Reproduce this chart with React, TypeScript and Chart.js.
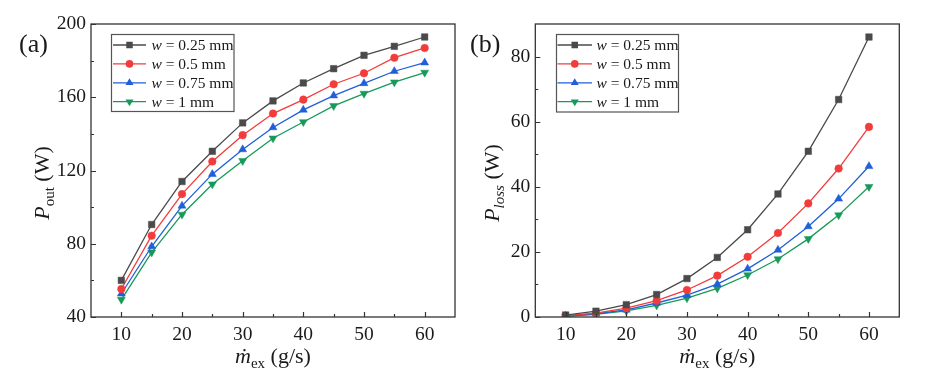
import React, { useEffect, useRef } from 'react';
import { Chart, registerables } from 'chart.js';

Chart.register(...registerables);

// ---------- data ----------
const massFlow = [10, 15, 20, 25, 30, 35, 40, 45, 50, 55, 60];
const seriesWidths = ['0.25 mm', '0.5 mm', '0.75 mm', '1 mm'];

const outW025 = [60, 90.5, 114, 130.5, 146, 158, 167.8, 175.6, 182.9, 187.8, 192.9];
const outW050 = [55.3, 84.4, 107.1, 124.9, 139.3, 151.1, 158.7, 167.1, 173.1, 181.6, 186.9];
const outW075 = [52.7, 78.5, 100.7, 118, 131.5, 143.5, 153.1, 160.9, 167.6, 174.2, 178.9];
const outW100 = [49.5, 75.3, 96, 112.5, 125.3, 137.6, 146.5, 155.3, 162, 168.2, 173.5];

const lossW025 = [0.6, 1.8, 3.8, 6.9, 11.8, 18.3, 26.8, 37.8, 50.9, 66.8, 86.0];
const lossW050 = [0.4, 1.2, 2.7, 5.0, 8.3, 12.7, 18.5, 25.8, 34.9, 45.6, 58.4];
const lossW075 = [0.3, 1.0, 2.2, 4.3, 6.7, 10.1, 14.8, 20.6, 27.8, 36.3, 46.3];
const lossW100 = [0.2, 0.8, 1.9, 3.6, 5.8, 8.8, 12.9, 17.8, 24.0, 31.3, 40.0];

const xMajorTicks = [10, 20, 30, 40, 50, 60];
const xMinorTicks = [15, 25, 35, 45, 55];
const outMajorTicks = [40, 80, 120, 160, 200];
const outMinorTicks = [60, 100, 140, 180];
const lossMajorTicks = [0, 20, 40, 60, 80];
const lossMinorTicks = [10, 30, 50, 70];

// ---------- styles ----------
const SERIF = '"Liberation Serif", "Times New Roman", serif';
const lineColors = ['#4a4a4a', '#f23c3c', '#1f5fd8', '#17995a'];
const markerStyles: any[] = ['rect', 'circle', 'triangle', 'triangle'];
const markerRotations = [0, 0, 0, 180];
const markerRadii = [4.6, 3.8, 4.6, 4.6];

type Seg = { t: string; font: string; dy: number };

function drawSegs(ctx: CanvasRenderingContext2D, segs: Seg[], x: number, y: number, align: 'left' | 'center') {
  let total = 0;
  for (const s of segs) {
    ctx.font = s.font;
    total += ctx.measureText(s.t).width;
  }
  let cx = align === 'center' ? x - total / 2 : x;
  ctx.textAlign = 'left';
  for (const s of segs) {
    ctx.font = s.font;
    ctx.fillText(s.t, cx, y + s.dy);
    cx += ctx.measureText(s.t).width;
  }
}

// legend key marker, same shapes as Chart.js point styles
function drawMarker(ctx: CanvasRenderingContext2D, i: number, x: number, y: number) {
  const r = markerRadii[i];
  ctx.save();
  ctx.fillStyle = lineColors[i];
  ctx.beginPath();
  if (markerStyles[i] === 'rect') {
    const s = r * Math.SQRT1_2;
    ctx.rect(x - s, y - s, 2 * s, 2 * s);
  } else if (markerStyles[i] === 'circle') {
    ctx.arc(x, y, r, 0, Math.PI * 2);
  } else {
    const dir = markerRotations[i] === 180 ? -1 : 1;
    ctx.moveTo(x, y - dir * r);
    ctx.lineTo(x + r * Math.sin(Math.PI / 3), y + dir * r * 0.5);
    ctx.lineTo(x - r * Math.sin(Math.PI / 3), y + dir * r * 0.5);
    ctx.closePath();
  }
  ctx.fill();
  ctx.restore();
}

type PanelCfg = {
  width: number;
  values: number[][];
  yMin: number;
  yMax: number;
  yMajor: number[];
  yMinor: number[];
  yAxisWidth: number;
  padRight: number;
  yTitle: Seg[];
  yTitleX: number;
  panelLabel: string;
  panelLabelX: number;
  legend: { bx: number; by: number; bw: number; bh: number; l0: number; l1: number; tx: number; r0: number; step: number };
};

function makePlugin(cfg: PanelCfg) {
  return {
    id: 'decor',
    afterDraw(chart: any) {
      const ctx: CanvasRenderingContext2D = chart.ctx;
      const a = chart.chartArea;
      const xs = chart.scales.x;
      const ys = chart.scales.y;
      ctx.save();
      // frame
      ctx.strokeStyle = '#333';
      ctx.lineWidth = 1.3;
      ctx.strokeRect(a.left, a.top, a.right - a.left, a.bottom - a.top);
      // ticks (inward)
      ctx.lineWidth = 1.2;
      ctx.beginPath();
      for (const v of xMajorTicks) {
        const p = Math.round(xs.getPixelForValue(v)) + 0.5;
        ctx.moveTo(p, a.bottom);
        ctx.lineTo(p, a.bottom - 5);
      }
      for (const v of xMinorTicks) {
        const p = Math.round(xs.getPixelForValue(v)) + 0.5;
        ctx.moveTo(p, a.bottom);
        ctx.lineTo(p, a.bottom - 3);
      }
      for (const v of cfg.yMajor) {
        const p = Math.round(ys.getPixelForValue(v)) + 0.5;
        ctx.moveTo(a.left, p);
        ctx.lineTo(a.left + 5, p);
      }
      for (const v of cfg.yMinor) {
        const p = Math.round(ys.getPixelForValue(v)) + 0.5;
        ctx.moveTo(a.left, p);
        ctx.lineTo(a.left + 3, p);
      }
      ctx.stroke();

      ctx.fillStyle = '#1a1a1a';
      ctx.textBaseline = 'alphabetic';
      // x title
      drawSegs(
        ctx,
        [
          { t: '\u1E41', font: `italic 22px ${SERIF}`, dy: 0 },
          { t: 'ex', font: `15px ${SERIF}`, dy: 5 },
          { t: ' (g/s)', font: `22px ${SERIF}`, dy: 0 },
        ],
        (a.left + a.right) / 2,
        363,
        'center'
      );
      // y title
      ctx.save();
      ctx.translate(cfg.yTitleX, 183);
      ctx.rotate(-Math.PI / 2);
      drawSegs(ctx, cfg.yTitle, 0, 0, 'center');
      ctx.restore();
      // panel label
      ctx.font = `26px ${SERIF}`;
      ctx.textAlign = 'left';
      ctx.fillText(cfg.panelLabel, cfg.panelLabelX, 52);

      // legend
      const L = cfg.legend;
      ctx.fillStyle = '#fff';
      ctx.fillRect(L.bx, L.by, L.bw, L.bh);
      ctx.strokeStyle = '#555';
      ctx.lineWidth = 1.2;
      ctx.strokeRect(L.bx, L.by, L.bw, L.bh);
      for (let i = 0; i < 4; i++) {
        const y = L.r0 + i * L.step;
        ctx.strokeStyle = lineColors[i];
        ctx.lineWidth = 1.3;
        ctx.beginPath();
        ctx.moveTo(L.l0, y);
        ctx.lineTo(L.l1, y);
        ctx.stroke();
        drawMarker(ctx, i, (L.l0 + L.l1) / 2, y);
        ctx.fillStyle = '#1a1a1a';
        ctx.textBaseline = 'middle';
        drawSegs(
          ctx,
          [
            { t: 'w', font: `italic 15.5px ${SERIF}`, dy: 0 },
            { t: ' = ' + seriesWidths[i], font: `15.5px ${SERIF}`, dy: 0 },
          ],
          L.tx,
          y + 1,
          'left'
        );
      }
      ctx.restore();
    },
  };
}

function Panel({ cfg }: { cfg: PanelCfg }) {
  const ref = useRef<HTMLCanvasElement>(null);
  useEffect(() => {
    if (!ref.current) return;
    const chart = new Chart(ref.current, {
      type: 'line',
      data: {
        datasets: cfg.values.map((vals, i) => ({
          label: 'w = ' + seriesWidths[i],
          data: massFlow.map((x, j) => ({ x, y: vals[j] })),
          borderColor: lineColors[i],
          backgroundColor: lineColors[i],
          borderWidth: 1.3,
          pointStyle: markerStyles[i],
          rotation: markerRotations[i],
          pointRadius: markerRadii[i],
          pointBorderWidth: 0.5,
          tension: 0,
          fill: false,
        })),
      },
      options: {
        animation: false,
        responsive: false,
        devicePixelRatio: 1,
        layout: { padding: { top: 24, right: cfg.padRight, left: 0, bottom: 0 } },
        plugins: { legend: { display: false }, tooltip: { enabled: false } },
        scales: {
          x: {
            type: 'linear',
            min: 5,
            max: 65,
            grid: { display: false, drawTicks: false },
            border: { display: false },
            afterBuildTicks: (s: any) => {
              s.ticks = xMajorTicks.map((v) => ({ value: v }));
            },
            afterFit: (s: any) => {
              s.height = 59;
            },
            ticks: { font: { family: SERIF, size: 19.5 }, color: '#1a1a1a', padding: 6, maxRotation: 0 },
          },
          y: {
            type: 'linear',
            min: cfg.yMin,
            max: cfg.yMax,
            grid: { display: false, drawTicks: false },
            border: { display: false },
            afterBuildTicks: (s: any) => {
              s.ticks = cfg.yMajor.map((v) => ({ value: v }));
            },
            afterFit: (s: any) => {
              s.width = cfg.yAxisWidth;
            },
            ticks: { font: { family: SERIF, size: 19.5 }, color: '#1a1a1a', padding: 5 },
          },
        },
      } as any,
      plugins: [makePlugin(cfg)],
    });
    return () => chart.destroy();
  }, [cfg]);
  return <canvas ref={ref} width={cfg.width} height={376} style={{ display: 'block', width: cfg.width, height: 376 }} />;
}

const panelA: PanelCfg = {
  width: 462,
  values: [outW025, outW050, outW075, outW100],
  yMin: 40,
  yMax: 200,
  yMajor: outMajorTicks,
  yMinor: outMinorTicks,
  yAxisWidth: 91,
  padRight: 7,
  yTitle: [
    { t: 'P', font: `italic 22px ${SERIF}`, dy: 0 },
    { t: 'out', font: `15px ${SERIF}`, dy: 5 },
    { t: ' (W)', font: `22px ${SERIF}`, dy: 0 },
  ],
  yTitleX: 49,
  panelLabel: '(a)',
  panelLabelX: 19,
  legend: { bx: 111.5, by: 34.5, bw: 122.5, bh: 77, l0: 113, l1: 146, tx: 151.5, r0: 45, step: 18.9 },
};

const panelB: PanelCfg = {
  width: 463,
  values: [lossW025, lossW050, lossW075, lossW100],
  yMin: 0,
  yMax: 90,
  yMajor: lossMajorTicks,
  yMinor: lossMinorTicks,
  yAxisWidth: 73.3,
  padRight: 25.7,
  yTitle: [
    { t: 'P', font: `italic 22px ${SERIF}`, dy: 0 },
    { t: 'loss', font: `italic 15px ${SERIF}`, dy: 5 },
    { t: ' (W)', font: `22px ${SERIF}`, dy: 0 },
  ],
  yTitleX: 37,
  panelLabel: '(b)',
  panelLabelX: 8,
  legend: { bx: 94.5, by: 34.5, bw: 122, bh: 77.5, l0: 95.5, l1: 130, tx: 134.5, r0: 45, step: 18.9 },
};

export default function App() {
  return (
    <div style={{ position: 'absolute', left: 0, top: 0, width: 925, height: 376, background: '#fff', display: 'flex' }}>
      <Panel cfg={panelA} />
      <Panel cfg={panelB} />
    </div>
  );
}
